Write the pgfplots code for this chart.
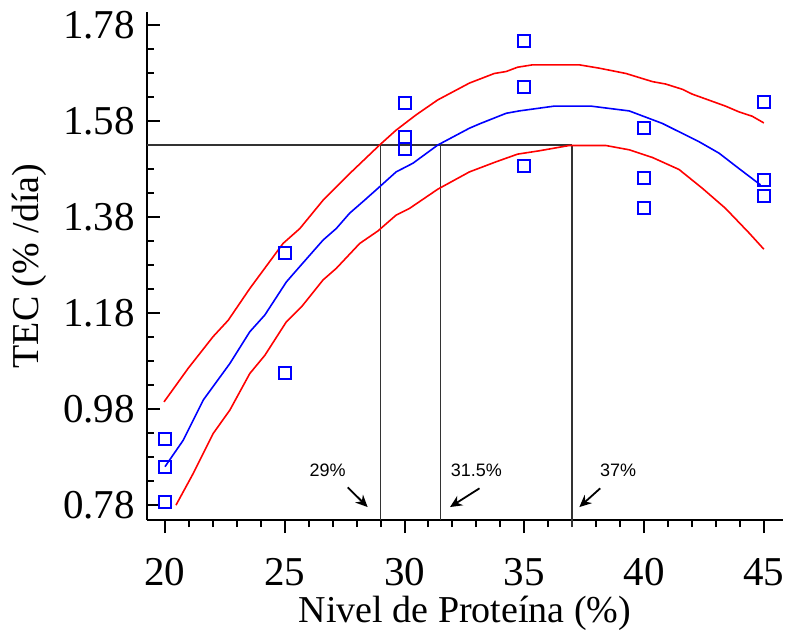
\documentclass[border=0pt]{standalone}
\usepackage{pgfplots}
\pgfplotsset{compat=1.18}
\usepackage{fontspec}
\setmainfont{Liberation Serif}
\newfontfamily\arialfont{Liberation Sans}
\usetikzlibrary{arrows.meta}
\begin{document}
\begin{tikzpicture}
\begin{axis}[
    scale only axis,
    width=318pt, height=254pt,
    xmin=19.25, xmax=45.8,
    ymin=0.749, ymax=1.807,
    axis x line=bottom, axis y line=left,
    axis line style={-, line width=1pt},
    xtick={20,25,30,35,40,45},
    ytick={0.78,0.98,1.18,1.38,1.58,1.78},
    minor x tick num=4, minor y tick num=3,
    xtick align=outside, ytick align=inside,
    major tick length=6.5pt, minor tick length=3.5pt,
    every tick/.style={black, line width=1pt},
    yticklabel style={xshift=-2.5pt, /pgf/number format/fixed, /pgf/number format/fixed zerofill, /pgf/number format/precision=2},
    xticklabel style={yshift=-9pt},
    /pgf/number format/assume math mode=true,
    tick label style={font=\fontsize{20.5}{24}\selectfont},
    xlabel={Nivel de Proteína (\%)},
    ylabel={TEC (\% /día)},
    xlabel style={font=\fontsize{19}{23}\selectfont, at={(axis description cs:0.5,-0.184)}, anchor=center},
    ylabel style={font=\fontsize{19}{23}\selectfont, at={(axis description cs:-0.1855,0.5)}, anchor=center},
    clip=false,
]
% reference lines
\addplot[color=black!80, line width=0.8pt] coordinates {(19.25,1.53) (37,1.53)};
\addplot[color=black!80, line width=0.8pt] coordinates {(29,0.749) (29,1.53)};
\addplot[color=black!80, line width=0.8pt] coordinates {(31.5,0.749) (31.5,1.53)};
\addplot[color=black!80, line width=0.8pt] coordinates {(37,0.735) (37,1.53)};
% upper confidence band
\addplot[color=red, line width=0.8pt] coordinates {
(19.96,0.995) (20.97,1.065) (22.01,1.131) (22.64,1.165) (23.54,1.231)
(24.93,1.325) (25.63,1.356) (26.60,1.415) (27.70,1.470) (28.96,1.530)
(29.65,1.561) (30.49,1.593) (31.39,1.624) (32.71,1.659) (33.75,1.679)
(34.24,1.683) (34.72,1.692) (35.35,1.697) (37.29,1.697) (38.13,1.690)
(39.24,1.679) (40.35,1.662) (40.90,1.657) (41.60,1.646) (42.01,1.636)
(43.40,1.611) (43.96,1.599) (44.51,1.590) (45.00,1.576)
};
% fitted curve
\addplot[color=blue, line width=0.8pt] coordinates {
(20.00,0.860) (20.76,0.915) (21.60,0.999) (22.71,1.075) (23.54,1.141)
(24.17,1.176) (25.07,1.245) (25.63,1.277) (26.60,1.332) (27.15,1.356)
(27.71,1.388) (28.33,1.415) (28.96,1.443) (29.65,1.474) (30.35,1.492)
(31.39,1.530) (32.71,1.565) (33.13,1.574) (34.24,1.596) (34.79,1.601)
(36.25,1.611) (37.78,1.611) (39.38,1.601) (40.76,1.575) (42.29,1.537)
(43.13,1.513) (43.96,1.481) (44.86,1.447)
};
% lower confidence band
\addplot[color=red, line width=0.8pt] coordinates {
(20.46,0.780) (21.18,0.846) (22.01,0.929) (22.71,0.978) (23.54,1.054)
(24.17,1.092) (25.07,1.162) (25.70,1.193) (26.60,1.249) (27.15,1.273)
(28.13,1.325) (28.89,1.351) (29.65,1.384) (30.21,1.398) (31.39,1.438)
(32.71,1.474) (33.82,1.495) (34.72,1.511) (35.63,1.518) (36.88,1.529)
(38.40,1.529) (39.38,1.520) (40.35,1.504) (41.46,1.479) (42.43,1.440)
(43.40,1.398) (44.38,1.347) (45.00,1.313)
};
% observations
\addplot[only marks, mark=square, mark size=3pt, color=blue, mark options={line width=1pt}] coordinates {
(20,0.918) (20,0.860) (20,0.787)
(25,1.306) (25,1.056)
(30,1.617) (30,1.546) (30,1.521)
(35,1.746) (35,1.650) (35,1.486)
(40,1.566) (40,1.462) (40,1.398)
(45,1.620) (45,1.457) (45,1.424)
};
% annotations
\node[font=\arialfont\fontsize{9}{11}\selectfont] at (axis cs:26.79,0.853) {29\%};
\node[font=\arialfont\fontsize{9}{11}\selectfont] at (axis cs:33.0,0.853) {31.5\%};
\node[font=\arialfont\fontsize{9}{11}\selectfont] at (axis cs:38.92,0.853) {37\%};
\draw[-{Stealth[length=6pt,width=5.5pt]}, line width=0.9pt] (axis cs:27.63,0.817) -- (axis cs:28.46,0.776);
\draw[-{Stealth[length=6pt,width=5.5pt]}, line width=0.9pt] (axis cs:33.13,0.815) -- (axis cs:31.9,0.776);
\draw[-{Stealth[length=6pt,width=5.5pt]}, line width=0.9pt] (axis cs:38.17,0.815) -- (axis cs:37.3,0.776);
\end{axis}
\pgfresetboundingbox
\path[use as bounding box] ([shift={(-73.5pt,-57pt)}]current axis.south west) rectangle ([shift={(1pt,6pt)}]current axis.north east);
\end{tikzpicture}
\end{document}
